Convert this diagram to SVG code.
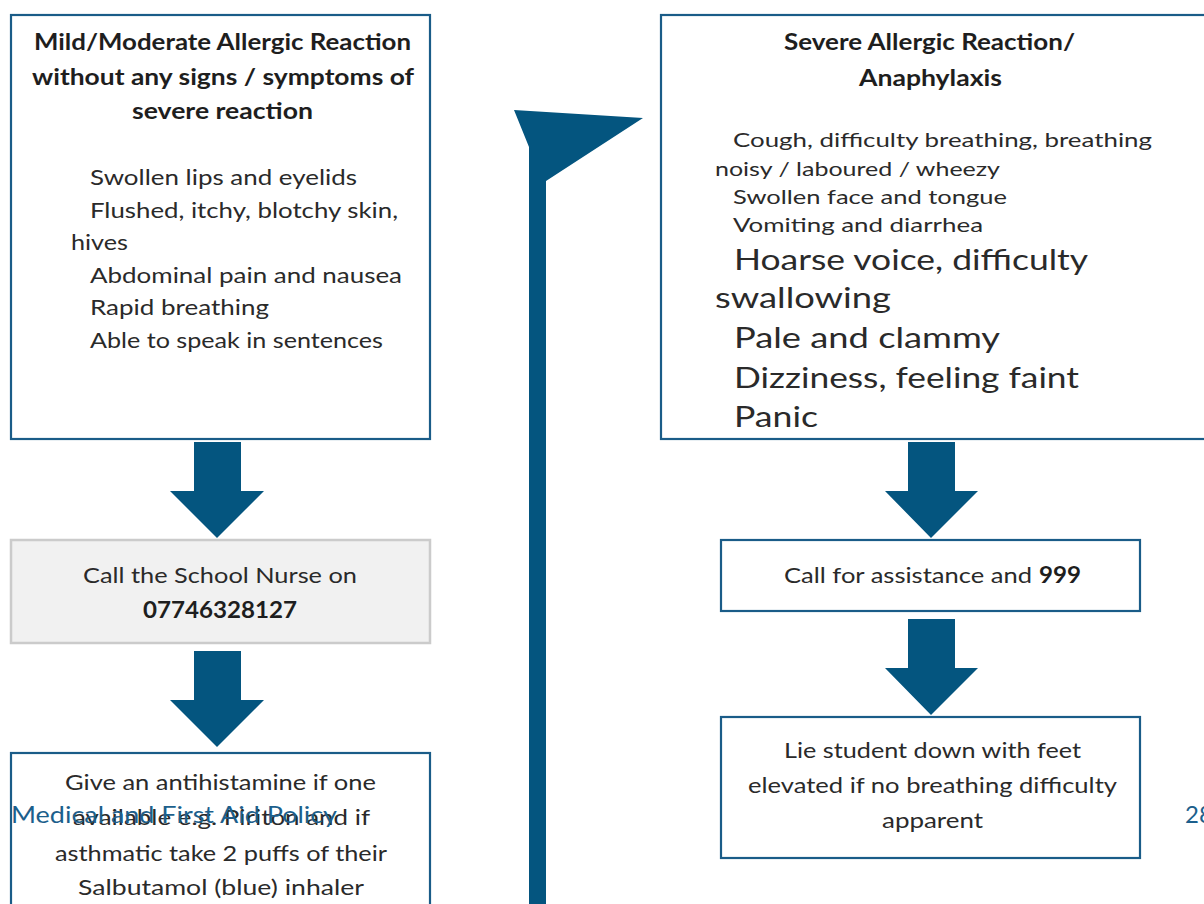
<svg xmlns="http://www.w3.org/2000/svg" width="1204" height="904" viewBox="0 0 1204 904">
<style>
.box{fill:#ffffff;stroke:#1a5c88;stroke-width:2.2}
.grey{fill:#f1f1f1;stroke:#cbcbcb;stroke-width:2.5}
.arr{fill:#04557f}
text{font-family:Lato,"Noto Sans","Liberation Sans",sans-serif;fill:#2a2a2a}
.b{font-weight:bold;fill:#1e1e1e}
.t1{font-size:22px}
.t2{font-size:20px}
.t3{font-size:29px}
.ft{font-size:24px;fill:#1c5f8c}
</style>
<rect width="1204" height="904" fill="#ffffff"/>
<g id="connectors">
<polygon class="arr" points="194,442 241,442 241,491 264,491 217,538 170,491 194,491"/>
<polygon class="arr" points="194,651 241,651 241,700 264,700 217,747 170,700 194,700"/>
<polygon class="arr" points="908,442 955,442 955,491 978,491 931,538 885,491 908,491"/>
<polygon class="arr" points="908,619 955,619 955,668 978,668 931,715 885,668 908,668"/>
<polygon class="arr" points="514,110 643,118 546,181 546,904 529,904 529,147"/>
</g>
<g id="mild">
<rect class="box" x="11" y="15" width="419" height="424"/>
<text class="t1 b" x="34" y="50" textLength="377" lengthAdjust="spacingAndGlyphs">Mild/Moderate Allergic Reaction</text>
<text class="t1 b" x="32" y="85" textLength="382" lengthAdjust="spacingAndGlyphs">without any signs / symptoms of</text>
<text class="t1 b" x="132" y="119" textLength="181" lengthAdjust="spacingAndGlyphs">severe reaction</text>
<text class="t1" x="90" y="185" textLength="267" lengthAdjust="spacingAndGlyphs">Swollen lips and eyelids</text>
<text class="t1" x="90" y="218" textLength="308" lengthAdjust="spacingAndGlyphs">Flushed, itchy, blotchy skin,</text>
<text class="t1" x="71" y="250" textLength="57" lengthAdjust="spacingAndGlyphs">hives</text>
<text class="t1" x="90" y="283" textLength="312" lengthAdjust="spacingAndGlyphs">Abdominal pain and nausea</text>
<text class="t1" x="90" y="315" textLength="179" lengthAdjust="spacingAndGlyphs">Rapid breathing</text>
<text class="t1" x="90" y="348" textLength="293" lengthAdjust="spacingAndGlyphs">Able to speak in sentences</text>
</g>
<g id="nurse">
<rect class="grey" x="11" y="540" width="419" height="103"/>
<text class="t1" x="83" y="583" textLength="274" lengthAdjust="spacingAndGlyphs">Call the School Nurse on</text>
<text class="t1 b" x="143" y="618" textLength="154" lengthAdjust="spacingAndGlyphs">07746328127</text>
</g>
<g id="antihistamine">
<rect class="box" x="11" y="753" width="419" height="160"/>
<text class="t1" x="65" y="790" textLength="311" lengthAdjust="spacingAndGlyphs">Give an antihistamine if one</text>
<text class="t1" x="73" y="825" textLength="297" lengthAdjust="spacingAndGlyphs">available e.g. Piriton and if</text>
<text class="t1" x="55" y="861" textLength="332" lengthAdjust="spacingAndGlyphs">asthmatic take 2 puffs of their</text>
<text class="t1" x="78" y="895" textLength="286" lengthAdjust="spacingAndGlyphs">Salbutamol (blue) inhaler</text>
</g>
<g id="severe">
<rect class="box" x="661" y="15" width="560" height="424"/>
<text class="t1 b" x="784" y="50" textLength="291" lengthAdjust="spacingAndGlyphs">Severe Allergic Reaction/</text>
<text class="t1 b" x="859" y="86" textLength="143" lengthAdjust="spacingAndGlyphs">Anaphylaxis</text>
<text class="t2" x="733" y="147" textLength="419" lengthAdjust="spacingAndGlyphs">Cough, difficulty breathing, breathing</text>
<text class="t2" x="715" y="176" textLength="285" lengthAdjust="spacingAndGlyphs">noisy / laboured / wheezy</text>
<text class="t2" x="733" y="204" textLength="274" lengthAdjust="spacingAndGlyphs">Swollen face and tongue</text>
<text class="t2" x="733" y="232" textLength="250" lengthAdjust="spacingAndGlyphs">Vomiting and diarrhea</text>
<text class="t3" x="734" y="270" textLength="354" lengthAdjust="spacingAndGlyphs">Hoarse voice, difficulty</text>
<text class="t3" x="715" y="308" textLength="176" lengthAdjust="spacingAndGlyphs">swallowing</text>
<text class="t3" x="734" y="348" textLength="266" lengthAdjust="spacingAndGlyphs">Pale and clammy</text>
<text class="t3" x="734" y="388" textLength="345" lengthAdjust="spacingAndGlyphs">Dizziness, feeling faint</text>
<text class="t3" x="734" y="427" textLength="84" lengthAdjust="spacingAndGlyphs">Panic</text>
</g>
<g id="call999">
<rect class="box" x="721" y="540" width="419" height="71"/>
<text class="t1" x="784" y="583"><tspan textLength="248" lengthAdjust="spacingAndGlyphs">Call for assistance and</tspan><tspan class="b" x="1039" textLength="42" lengthAdjust="spacingAndGlyphs">999</tspan></text>
</g>
<g id="lie">
<rect class="box" x="721" y="717" width="419" height="141"/>
<text class="t1" x="784" y="758" textLength="297" lengthAdjust="spacingAndGlyphs">Lie student down with feet</text>
<text class="t1" x="748" y="793" textLength="369" lengthAdjust="spacingAndGlyphs">elevated if no breathing difficulty</text>
<text class="t1" x="882" y="828" textLength="101" lengthAdjust="spacingAndGlyphs">apparent</text>
</g>
<g id="footer">
<text class="ft" x="11" y="823" textLength="326" lengthAdjust="spacingAndGlyphs">Medical and First Aid Policy</text>
<text class="ft" x="1185" y="823">28</text>
</g>
</svg>
